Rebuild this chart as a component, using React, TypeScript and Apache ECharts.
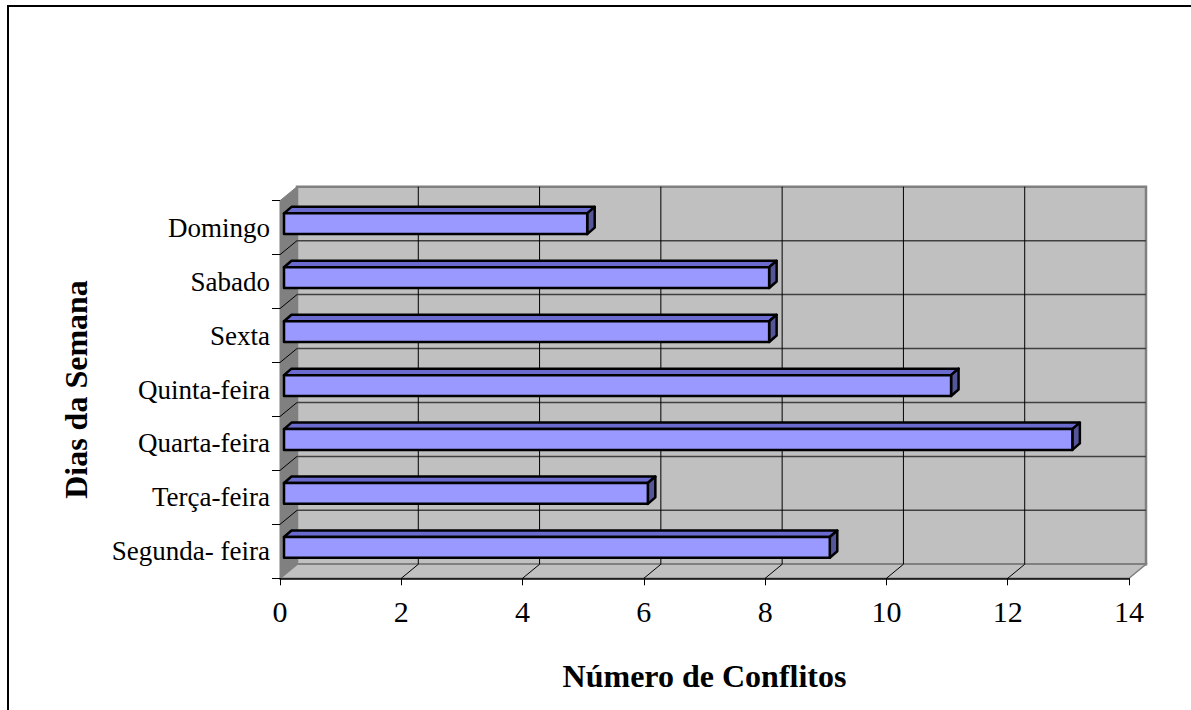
import React, { useEffect, useRef } from "react";
import * as echarts from "echarts";

const categories = [
  "Segunda- feira",
  "Terça-feira",
  "Quarta-feira",
  "Quinta-feira",
  "Sexta",
  "Sabado",
  "Domingo",
];
const values = [9, 6, 13, 11, 8, 8, 5];
const xTicks = [0, 2, 4, 6, 8, 10, 12, 14];
const xTitle = "Número de Conflitos";
const yTitle = "Dias da Semana";

const FONT = "'Liberation Serif', 'Times New Roman', serif";
const DX = 17;
const DY = -14;

export default function App() {
  const ref = useRef<HTMLDivElement>(null);
  useEffect(() => {
    if (!ref.current) return;
    const chart = echarts.init(ref.current, undefined, { renderer: "svg" });
    const n = categories.length;
    const xMax = xTicks[xTicks.length - 1];

    const wallsRender = (params: any, api: any) => {
      const bandH = api.size([0, 1])[1];
      const p0 = api.coord([0, 0]);
      const xL = p0[0];
      const xR = api.coord([xMax, 0])[0];
      const yB = p0[1] + bandH / 2;
      const yT = api.coord([0, n - 1])[1] - bandH / 2;
      const children: any[] = [];
      children.push({
        type: "rect",
        shape: { x: xL + DX, y: yT + DY, width: xR - xL, height: yB - yT },
        style: { fill: "#C0C0C0", stroke: "#808080", lineWidth: 2.5 },
      });
      children.push({
        type: "polygon",
        shape: { points: [[xL, yT], [xL + DX, yT + DY], [xL + DX, yB + DY], [xL, yB]] },
        style: { fill: "#808080", stroke: "#808080", lineWidth: 1 },
      });
      children.push({
        type: "polygon",
        shape: { points: [[xL, yB], [xL + DX, yB + DY], [xR + DX, yB + DY], [xR, yB]] },
        style: { fill: "#C0C0C0", stroke: "#808080", lineWidth: 1.5 },
      });
      for (let i = 1; i < n; i++) {
        const y = yB - i * bandH;
        children.push({
          type: "line",
          shape: { x1: xL + DX, y1: y + DY, x2: xR + DX, y2: y + DY },
          style: { stroke: "#404040", lineWidth: 1.5 },
        });
        children.push({
          type: "line",
          shape: { x1: xL, y1: y, x2: xL + DX, y2: y + DY },
          style: { stroke: "#000", lineWidth: 1 },
        });
      }
      for (let k = 1; k < xTicks.length - 1; k++) {
        const x = api.coord([xTicks[k], 0])[0];
        children.push({
          type: "line",
          shape: { x1: x + DX, y1: yT + DY, x2: x + DX, y2: yB + DY },
          style: { stroke: "#000", lineWidth: 1 },
        });
        children.push({
          type: "line",
          shape: { x1: x, y1: yB, x2: x + DX, y2: yB + DY },
          style: { stroke: "#000", lineWidth: 1 },
        });
      }
      return { type: "group", children };
    };

    const barRender = (params: any, api: any) => {
      const v = api.value(0);
      const i = api.value(1);
      const bandH = api.size([0, 1])[1];
      const pv = api.coord([v, i]);
      const x0 = api.coord([0, i])[0];
      const fx = 4;
      const fy = -3.95;
      const fh = bandH * 0.385;
      const bdx = 7.5;
      const bdy = -6.5;
      const L = x0 + fx;
      const R = pv[0] + fx;
      const T = pv[1] + fy - fh / 2;
      const B = T + fh;
      const stroke = { stroke: "#000", lineWidth: 2.5, lineJoin: "round" };
      return {
        type: "group",
        children: [
          {
            type: "polygon",
            shape: { points: [[L, T], [R, T], [R + bdx, T + bdy], [L + bdx, T + bdy]] },
            style: { fill: "#6B6BCF", ...stroke },
          },
          {
            type: "polygon",
            shape: { points: [[R, T], [R + bdx, T + bdy], [R + bdx, B + bdy], [R, B]] },
            style: { fill: "#55559A", ...stroke },
          },
          {
            type: "rect",
            shape: { x: L, y: T, width: R - L, height: fh },
            style: { fill: "#9999FF", ...stroke },
          },
        ],
      };
    };

    chart.setOption({
      animation: false,
      backgroundColor: "#fff",
      textStyle: { fontFamily: FONT },
      graphic: [
        {
          type: "rect",
          shape: { x: 8, y: 6, width: 1400, height: 900 },
          style: { fill: "none", stroke: "#000", lineWidth: 2 },
          z: 100,
        },
      ],
      grid: { left: 280, right: 62, top: 200.7, bottom: 131.7 },
      xAxis: {
        type: "value",
        min: 0,
        max: xMax,
        interval: 2,
        z: 10,
        axisLine: { show: true, lineStyle: { color: "#000", width: 1.5 } },
        axisTick: { show: true, length: 7, lineStyle: { color: "#000" } },
        splitLine: { show: false },
        axisLabel: { fontSize: 30, color: "#000", margin: 18, fontFamily: FONT },
        name: xTitle,
        nameLocation: "middle",
        nameGap: 82,
        nameTextStyle: { fontSize: 32, fontWeight: "bold", color: "#000", fontFamily: FONT },
      },
      yAxis: {
        type: "category",
        data: categories,
        z: 10,
        axisLine: { show: false },
        axisTick: { show: true, length: 8, lineStyle: { color: "#000" } },
        splitLine: { show: false },
        axisLabel: { fontSize: 27, color: "#000", margin: 10, fontFamily: FONT },
        name: yTitle,
        nameLocation: "middle",
        nameRotate: 90,
        nameGap: 188,
        nameTextStyle: { fontSize: 32, fontWeight: "bold", color: "#000", fontFamily: FONT },
      },
      series: [
        {
          type: "custom",
          z: 1,
          clip: false,
          silent: true,
          renderItem: wallsRender,
          data: [[0, 0]],
        },
        {
          type: "custom",
          z: 3,
          clip: false,
          renderItem: barRender,
          encode: { x: 0, y: 1 },
          data: values.map((v, i) => [v, i]),
        },
      ],
    });
    return () => chart.dispose();
  }, []);
  return (
    <div
      ref={ref}
      style={{ position: "absolute", left: 0, top: 0, width: 1191, height: 710 }}
    />
  );
}
